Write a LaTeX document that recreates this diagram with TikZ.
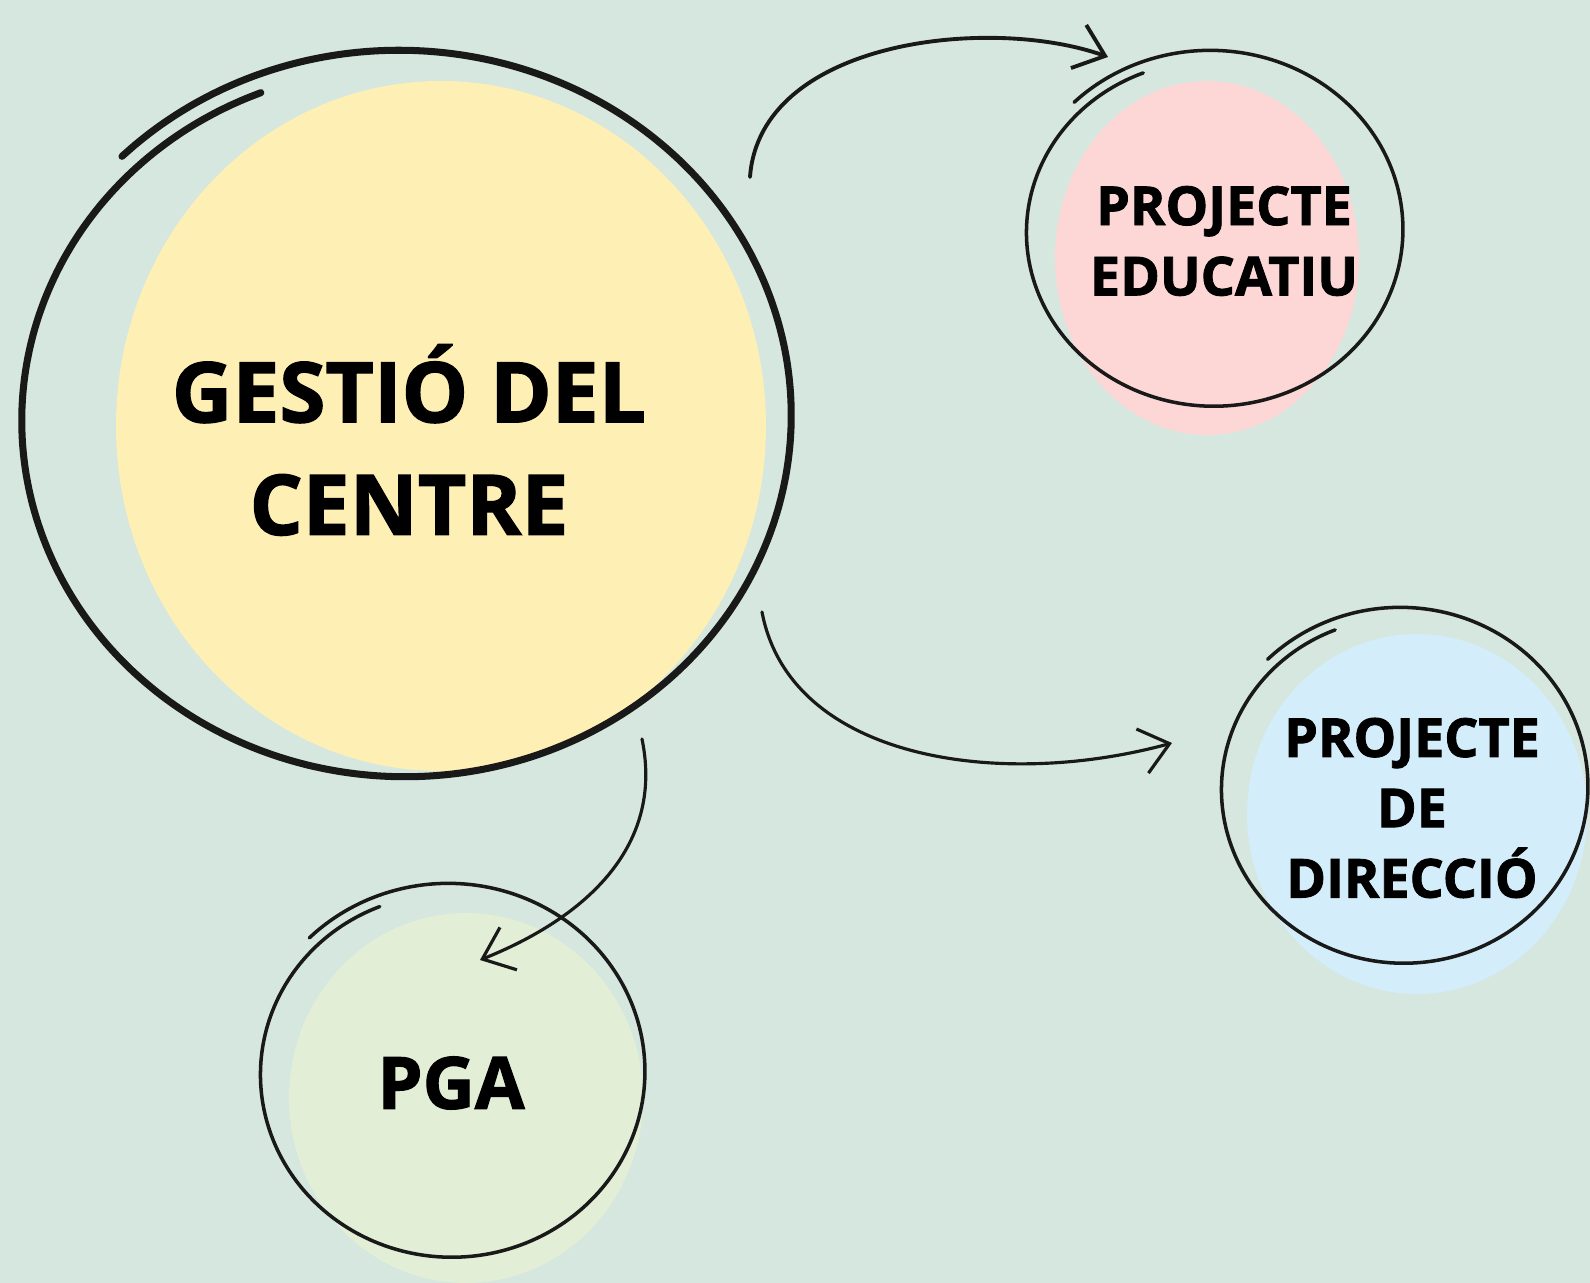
\documentclass[tikz,border=0pt]{standalone}
\usepackage{fontspec}
\setmainfont{Open Sans}[BoldFeatures={FakeBold=1.6}]
\usetikzlibrary{arrows.meta}

\definecolor{sage}{RGB}{213,231,222}
\definecolor{butter}{RGB}{254,239,181}
\definecolor{blush}{RGB}{253,214,214}
\definecolor{sky}{RGB}{211,238,250}
\definecolor{moss}{RGB}{226,238,213}
\definecolor{ink}{RGB}{25,25,25}

% hand drawn ring: cx, cy, rx, ry, width, shrink
\newcommand{\sketchring}[6]{%
  \draw[ink, line width=#5, line cap=round] plot[domain=-135:248, samples=150, smooth]
    ({#1+(#3-#6*(\x+135))*cos(\x)}, {#2+(#4-#6*(\x+135))*sin(\x)});
}

\tikzset{
  bigtext/.style={font=\fontsize{23.8}{32}\selectfont\bfseries, align=center, text=black, inner sep=0pt},
  smalltext/.style={font=\fontsize{15.3}{20}\selectfont\bfseries, align=center, text=black, inner sep=0pt},
  sketcharrow/.style={ink, line width=0.9pt, line cap=round, -{Straight Barb[length=8pt, width=13pt]}}
}

\begin{document}
\begin{tikzpicture}[x=0.01cm, y=-0.01cm]

\fill[sage] (0,0) rectangle (1590,1283);
\useasboundingbox (0,0) rectangle (1590,1283);

% colour blobs
\fill[butter] (441,426) ellipse[x radius=325, y radius=345];
\fill[blush] (1207,258) ellipse[x radius=152, y radius=177];
\fill[sky] (1417,814) ellipse[x radius=170, y radius=180];
\fill[moss] (466,1098) ellipse[x radius=177, y radius=185];

% rings
\sketchring{402}{418}{396}{370}{2pt}{0.05}
\sketchring{1212}{231}{195}{182}{1pt}{0.03}
\sketchring{1402}{788}{190}{182}{1pt}{0.03}
\sketchring{450}{1073}{199}{191}{1pt}{0.03}

% labels
\node[bigtext] (gestio) at (409,440) {GESTIÓ DEL\\CENTRE};
\node[smalltext] (educatiu) at (1224,241) {PROJECTE\\EDUCATIU};
\node[smalltext] (direccio) at (1412,808) {PROJECTE\\DE\\DIRECCIÓ};
\node[font=\fontsize{20.5}{24}\selectfont\bfseries, text=black, inner sep=0pt] (pga) at (451,1083) {PGA};

% arrow ends
\coordinate (gestioNE) at (750,177);
\coordinate (educatiuW) at (1108,57);
\coordinate (gestioSE) at (762,612);
\coordinate (direccioW) at (1172,743);
\coordinate (gestioS) at (642,739);
\coordinate (pgaN) at (480,960);

\draw[sketcharrow, line width=1.1pt] (gestioNE) .. controls (760,40) and (990,15) .. (educatiuW);
\draw[sketcharrow] (gestioSE) .. controls (790,760) and (1000,790) .. (direccioW);
\draw[sketcharrow] (gestioS) .. controls (665,850) and (580,920) .. (pgaN);

\end{tikzpicture}
\end{document}
